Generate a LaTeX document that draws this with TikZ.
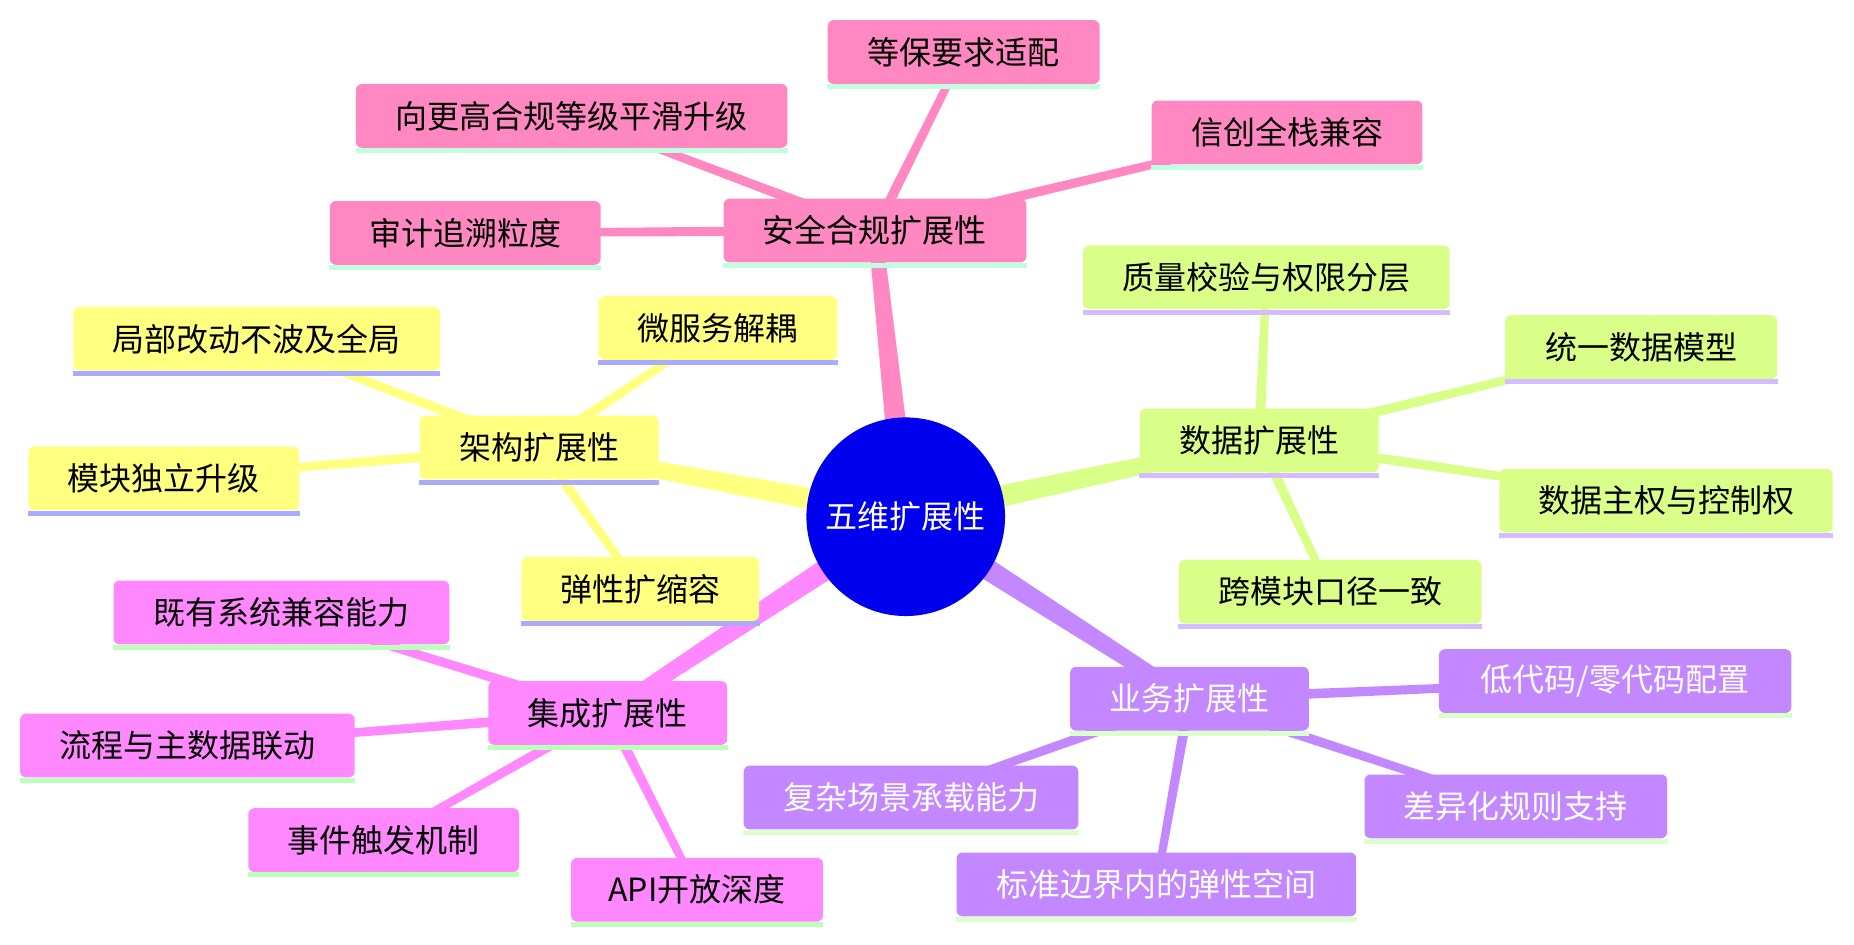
\documentclass[tikz,border=0pt]{standalone}
\usepackage{fontspec}
\setmainfont{Noto Sans CJK SC}
\usetikzlibrary{calc}
\pgfdeclarelayer{background}
\pgfsetlayers{background,main}
\definecolor{cS}{HTML}{FF88C2}
\definecolor{cSu}{HTML}{BFFFDF}
\definecolor{cA}{HTML}{FFFF80}
\definecolor{cAu}{HTML}{AAAAFF}
\definecolor{cD}{HTML}{DAFF88}
\definecolor{cDu}{HTML}{D5BBFF}
\definecolor{cB}{HTML}{C388FF}
\definecolor{cBu}{HTML}{DAFFC8}
\definecolor{cI}{HTML}{FF88FF}
\definecolor{cIu}{HTML}{BBFFBB}
\definecolor{cRoot}{HTML}{0000EE}
\newcommand\mmbox[6]{%
  \node[#5box, minimum width=#4*0.5912pt] (#1) at (#2,#3) {#6};
  \fill[#5ul] (#1.south west) rectangle ([yshift=-2.5pt]#1.south east);
}
\newcommand\taper[5]{%
  \fill[#5] ($(#1.center)!#3!90:(#2.center)$) -- ($(#2.center)!#4!-90:(#1.center)$)
    -- ($(#2.center)!#4!90:(#1.center)$) -- ($(#1.center)!#3!-90:(#2.center)$) -- cycle;
}
\begin{document}
\begin{tikzpicture}[x=0.5912pt,y=-0.5912pt,
  box/.style={rectangle, rounded corners=3pt, minimum height=31.9pt, inner sep=0pt,
    font=\fontsize{16}{19}\selectfont, text=black},
  sbox/.style={box, fill=cS}, sul/.style={fill=cSu},
  abox/.style={box, fill=cA}, aul/.style={fill=cAu},
  dbox/.style={box, fill=cD}, dul/.style={fill=cDu},
  bbox/.style={box, fill=cB, text=white}, bul/.style={fill=cBu},
  ibox/.style={box, fill=cI}, iul/.style={fill=cIu},
  rootnode/.style={circle, fill=cRoot, text=white, minimum size=168*0.5912pt, inner sep=0pt,
    font=\fontsize{16}{19}\selectfont}
]
\useasboundingbox (0,0) rectangle (1568,799);

\node[rootnode] (root) at (766,437) {五维扩展性};

% security
\mmbox{S}{740}{195}{256}{s}{安全合规扩展性}
\mmbox{S1}{815}{44}{230}{s}{等保要求适配}
\mmbox{S2}{483.5}{98}{365}{s}{向更高合规等级平滑升级}
\mmbox{S3}{1088.5}{112}{229}{s}{信创全栈兼容}
\mmbox{S4}{393.5}{197}{229}{s}{审计追溯粒度}

% architecture
\mmbox{A}{456}{378.5}{202}{a}{架构扩展性}
\mmbox{A1}{217}{286.5}{310}{a}{局部改动不波及全局}
\mmbox{A2}{607}{277.5}{202}{a}{微服务解耦}
\mmbox{A3}{138.5}{404.5}{229}{a}{模块独立升级}
\mmbox{A4}{541.5}{498}{201}{a}{弹性扩缩容}

% data
\mmbox{D}{1065}{372.5}{202}{d}{数据扩展性}
\mmbox{D1}{1071}{234.5}{310}{d}{质量校验与权限分层}
\mmbox{D2}{1388}{293.5}{230}{d}{统一数据模型}
\mmbox{D3}{1409}{423.5}{282}{d}{数据主权与控制权}
\mmbox{D4}{1125}{500.5}{256}{d}{跨模块口径一致}

% business
\mmbox{B}{1006}{591}{202}{b}{业务扩展性}
\mmbox{B1}{1366}{576}{298}{b}{低代码/零代码配置}
\mmbox{B2}{770.5}{674.5}{283}{b}{复杂场景承载能力}
\mmbox{B3}{1282}{682}{256}{b}{差异化规则支持}
\mmbox{B4}{978}{748}{338}{b}{标准边界内的弹性空间}

% integration
\mmbox{I}{514}{603}{202}{i}{集成扩展性}
\mmbox{I1}{238}{518}{284}{i}{既有系统兼容能力}
\mmbox{I2}{158.5}{630.5}{283}{i}{流程与主数据联动}
\mmbox{I3}{324.5}{710.5}{229}{i}{事件触发机制}
\mmbox{I4}{589.5}{752.5}{213}{i}{API开放深度}

\begin{pgfonlayer}{background}
\fill[white] (0,0) rectangle (1568,799);
\taper{root}{S}{6pt}{3.5pt}{cS}
\taper{root}{A}{6pt}{3.5pt}{cA}
\taper{root}{D}{6pt}{3.5pt}{cD}
\taper{root}{B}{6pt}{3.5pt}{cB}
\taper{root}{I}{6pt}{3.5pt}{cI}
\foreach \c in {S1,S2,S3,S4}{\taper{S}{\c}{2.6pt}{1.9pt}{cS}}
\foreach \c in {A1,A2,A3,A4}{\taper{A}{\c}{2.6pt}{1.9pt}{cA}}
\foreach \c in {D1,D2,D3,D4}{\taper{D}{\c}{2.6pt}{1.9pt}{cD}}
\foreach \c in {B1,B2,B3,B4}{\taper{B}{\c}{2.6pt}{1.9pt}{cB}}
\foreach \c in {I1,I2,I3,I4}{\taper{I}{\c}{2.6pt}{1.9pt}{cI}}
\end{pgfonlayer}
\end{tikzpicture}
\end{document}
